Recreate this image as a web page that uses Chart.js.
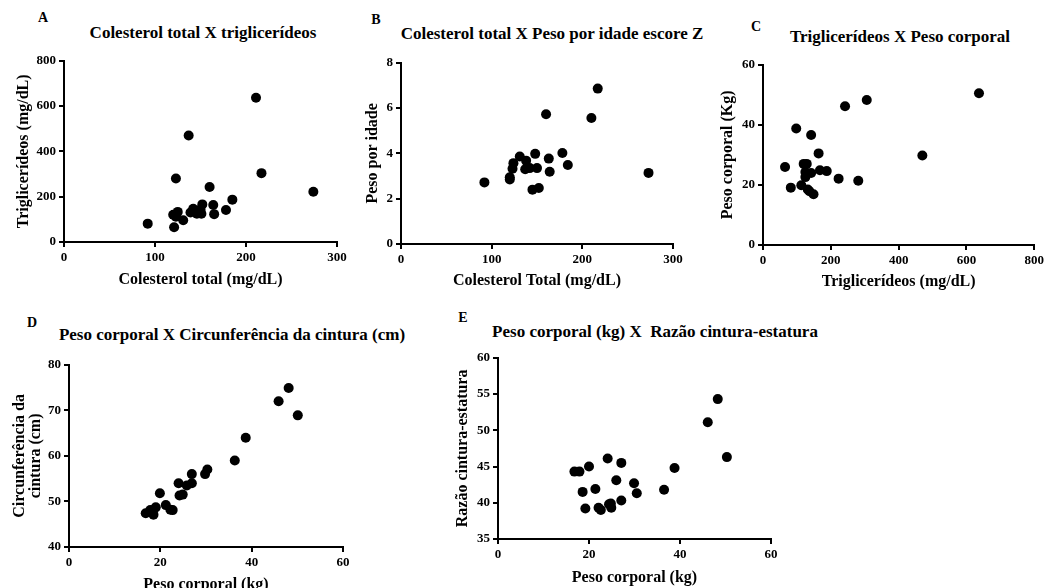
<!DOCTYPE html>
<html>
<head>
<meta charset="utf-8">
<script src="https://cdn.jsdelivr.net/npm/chart.js@4.4.0/dist/chart.umd.min.js"></script>
<style>
html, body { margin: 0; padding: 0; background: #fff; overflow: hidden; width: 1047px; height: 588px; }
canvas { position: absolute; }
.t { position: absolute; transform: translate(-50%, -50%); white-space: pre;
     font-family: "Liberation Serif", "Times New Roman", serif; font-weight: bold; color: #000; }
</style>
</head>
<body>

<div class="t" style="left:43px;top:18px;font-size:14px">A</div>
<div class="t" style="left:203px;top:33px;font-size:17px">Colesterol total X triglicerídeos</div>
<div class="t" style="left:376px;top:20px;font-size:14px">B</div>
<div class="t" style="left:552px;top:34px;font-size:17px">Colesterol total X Peso por idade escore Z</div>
<div class="t" style="left:756px;top:27px;font-size:14px">C</div>
<div class="t" style="left:900px;top:37px;font-size:17px">Triglicerídeos X Peso corporal</div>
<div class="t" style="left:32px;top:323px;font-size:14px">D</div>
<div class="t" style="left:232px;top:335px;font-size:17px">Peso corporal X Circunferência da cintura (cm)</div>
<div class="t" style="left:463px;top:318px;font-size:14px">E</div>
<div class="t" style="left:655px;top:332px;font-size:17px">Peso corporal (kg) X  Razão cintura-estatura</div>

<canvas id="pA"></canvas>
<canvas id="pB"></canvas>
<canvas id="pC"></canvas>
<canvas id="pD"></canvas>
<canvas id="pE"></canvas>

<script>
// A - colesterol total x triglicerideos
const colTotalA = [92, 121, 120, 123, 125, 123, 131, 137, 139, 142, 146, 150, 151, 152, 160, 164, 165, 178, 185, 211, 217, 274];
const trigA = [81, 65, 120, 112, 133, 280, 96, 470, 130, 147, 125, 144, 125, 166, 243, 163, 123, 141, 187, 637, 304, 222];

// B - colesterol total x peso por idade (escore Z)
const colTotalB = [92, 120, 120, 123, 124, 131, 137, 138, 142, 145, 148, 150, 152, 160, 163, 164, 178, 184, 210, 217, 273];
const zScoreB = [2.72, 2.95, 2.85, 3.32, 3.57, 3.86, 3.30, 3.68, 3.35, 2.40, 3.98, 3.35, 2.47, 5.73, 3.77, 3.19, 4.02, 3.49, 5.56, 6.86, 3.14];

// C - triglicerideos x peso corporal
const trigC = [65, 82, 98, 113, 120, 129, 125, 125, 132, 137, 142, 142, 149, 164, 168, 188, 223, 242, 281, 306, 470, 637];
const pesoC = [26, 19.1, 38.8, 19.9, 27, 27, 24.3, 22.6, 18.5, 17.9, 24, 36.6, 16.9, 30.5, 24.9, 24.6, 22.1, 46.2, 21.4, 48.3, 29.8, 50.5];

// D - peso corporal x circunferencia da cintura
const pesoD = [16.8, 17.8, 18.5, 19.0, 19.9, 21.2, 22.2, 22.7, 24.0, 24.2, 24.9, 25.8, 26.9, 26.9, 29.8, 30.3, 36.3, 38.7, 45.9, 48.1, 50.1];
const cinturaD = [47.4, 48.1, 47.1, 48.7, 51.8, 49.2, 48.2, 48.1, 54.0, 51.3, 51.5, 53.5, 54.0, 56.0, 56.0, 57.0, 59.0, 64.0, 72.0, 74.9, 68.9];

// E - peso corporal x razao cintura-estatura
const pesoE = [16.8, 17.9, 18.6, 19.2, 20.0, 21.4, 22.1, 22.6, 24.1, 24.4, 24.8, 24.9, 26.0, 27.1, 27.1, 29.9, 30.5, 36.5, 38.8, 46.1, 48.3, 50.3];
const rceE = [44.3, 44.3, 41.5, 39.2, 45.0, 41.9, 39.3, 39.0, 46.1, 39.8, 39.9, 39.3, 43.1, 45.5, 40.3, 42.7, 41.3, 41.8, 44.8, 51.1, 54.3, 46.3];

const serif = 'Liberation Serif';

function axis(min, max, step, title, fit) {
  return {
    type: 'linear', min: min, max: max,
    afterFit: fit,
    ticks: { stepSize: step, padding: 3, color: '#000', autoSkip: false, maxRotation: 0,
             font: { family: serif, size: 13, weight: 'bold' } },
    grid: { display: true, drawOnChartArea: false, drawTicks: true, tickLength: 5, color: '#000', lineWidth: 2 },
    border: { display: true, color: '#000', width: 2 },
    title: { display: true, text: title, color: '#000',
             font: { family: serif, size: 16, weight: 'bold', lineHeight: 1.05 } }
  };
}

// box = canvas [left, top, right, bottom], area = plot area, same order
function panel(id, xs, ys, box, area, xr, yr, xTitle, yTitle) {
  const cv = document.getElementById(id);
  cv.width = box[2] - box[0];
  cv.height = box[3] - box[1];
  cv.style.left = box[0] + 'px';
  cv.style.top = box[1] + 'px';
  const pts = xs.map((x, i) => ({ x: x, y: ys[i] }));
  return new Chart(cv, {
    type: 'scatter',
    data: { datasets: [{ data: pts, pointRadius: 5, pointHoverRadius: 5,
                         backgroundColor: '#000', borderColor: '#000', borderWidth: 0 }] },
    options: {
      responsive: false, animation: false, devicePixelRatio: 1,
      layout: { padding: { top: area[1] - box[1], right: box[2] - area[2], left: 0, bottom: 0 } },
      plugins: { legend: { display: false }, tooltip: { enabled: false } },
      scales: {
        x: axis(xr[0], xr[1], xr[2], xTitle, s => { s.height = box[3] - area[3]; }),
        y: axis(yr[0], yr[1], yr[2], yTitle, s => { s.width = area[0] - box[0]; })
      }
    }
  });
}

panel('pA', colTotalA, trigA, [11, 50, 357, 292], [64, 60, 337, 242], [0, 300, 100], [0, 800, 200],
      'Colesterol total (mg/dL)', 'Triglicerídeos (mg/dL)');
panel('pB', colTotalB, zScoreB, [360, 52, 693, 293], [401, 62, 673, 244], [0, 300, 100], [0, 8, 2],
      'Colesterol Total (mg/dL)', 'Peso por idade');
panel('pC', trigC, pesoC, [715, 54, 1047, 294], [763, 64, 1036, 245], [0, 800, 200], [0, 60, 20],
      'Triglicerídeos (mg/dL)', 'Peso corporal (Kg)');
panel('pD', pesoD, cinturaD, [7, 354, 363, 597], [69, 364, 343, 547], [0, 60, 20], [40, 80, 10],
      'Peso corporal (kg)', ['Circunferência da', 'cintura (cm)']);
panel('pE', pesoE, rceE, [450, 347, 791, 590], [498, 357, 771, 539], [0, 60, 20], [35, 60, 5],
      'Peso corporal (kg)', 'Razão cintura-estatura');
</script>
</body>
</html>
